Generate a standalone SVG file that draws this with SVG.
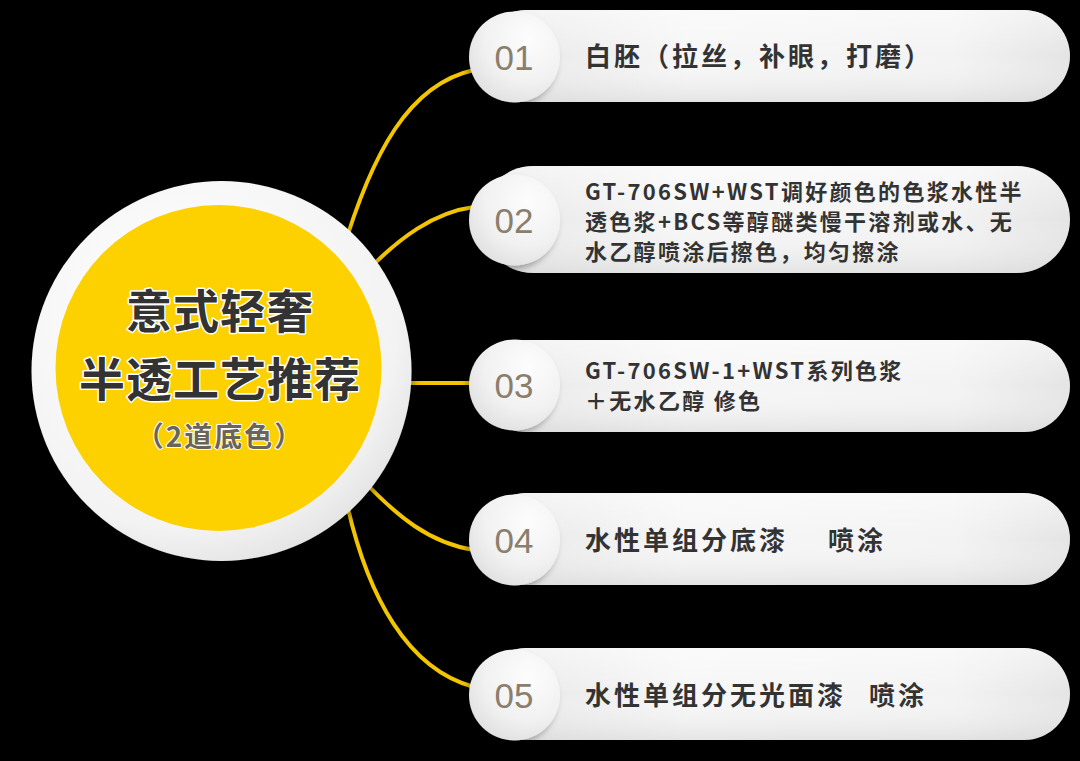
<svg xmlns="http://www.w3.org/2000/svg" width="1080" height="761" viewBox="0 0 1080 761">
  <defs>
    <linearGradient id="pillGrad" x1="0" y1="0" x2="1" y2="0">
      <stop offset="0" stop-color="#e6e6e6"/>
      <stop offset="0.35" stop-color="#f6f6f6"/>
      <stop offset="0.8" stop-color="#f3f3f3"/>
      <stop offset="1" stop-color="#e4e4e4"/>
    </linearGradient>
    <linearGradient id="pillShade" x1="0" y1="0" x2="0" y2="1">
      <stop offset="0" stop-color="#ffffff" stop-opacity="0.5"/>
      <stop offset="0.5" stop-color="#ffffff" stop-opacity="0"/>
      <stop offset="1" stop-color="#cfcfcf" stop-opacity="0.45"/>
    </linearGradient>
    <radialGradient id="numGrad" cx="0.65" cy="0.3" r="0.8">
      <stop offset="0" stop-color="#fdfdfd"/>
      <stop offset="0.6" stop-color="#f1f1f1"/>
      <stop offset="1" stop-color="#dedede"/>
    </radialGradient>
    <radialGradient id="ringGrad" cx="0.4" cy="0.35" r="0.75">
      <stop offset="0" stop-color="#ffffff"/>
      <stop offset="0.75" stop-color="#f3f3f3"/>
      <stop offset="1" stop-color="#dcdcdc"/>
    </radialGradient>
    <filter id="numShadow" x="-30%" y="-30%" width="160%" height="160%">
      <feDropShadow dx="-3" dy="4" stdDeviation="3" flood-color="#000" flood-opacity="0.3"/>
    </filter>
    <filter id="ringShadow" x="-20%" y="-20%" width="140%" height="140%">
      <feDropShadow dx="2" dy="3" stdDeviation="4" flood-color="#000" flood-opacity="0.4"/>
    </filter>
  </defs>
  <style>
    .pill { fill: url(#pillGrad); }
    .pillShade { fill: url(#pillShade); }
    .num-bg { fill: url(#numGrad); filter: url(#numShadow); }
    .num { font-family: "Liberation Sans", Arial, sans-serif; font-size: 35px; fill: #8a7e6c; text-anchor: middle; }
    .lbl { font-family: "Noto Sans CJK SC", "Noto Sans", sans-serif; font-weight: 700; fill: #333333; }
    .big { font-size: 26px; letter-spacing: 3px; }
    .small { font-size: 22px; letter-spacing: 2.3px; }
    .conn { fill: none; stroke: #f2c500; stroke-width: 4; stroke-linecap: round; }
    .title { font-family: "Noto Sans CJK SC", sans-serif; font-weight: 700; font-size: 46px; fill: #333333; stroke: #ffffff; stroke-width: 3px; paint-order: stroke; stroke-linejoin: round; text-anchor: middle; letter-spacing: 1px; }
    .sub { font-family: "Noto Sans CJK SC", sans-serif; font-weight: 700; font-size: 28px; fill: #6b6457; stroke: #ffffff; stroke-width: 2px; paint-order: stroke; stroke-linejoin: round; text-anchor: middle; letter-spacing: 2px; }
  </style>
  <rect x="0" y="0" width="1080" height="761" fill="#000000"/>

  <g id="connectors">
    <path class="conn" d="M340,260 C372,150 410,84 474,70"/>
    <path class="conn" d="M360,278 C400,236 435,212 474,207"/>
    <path class="conn" d="M395,383 L474,383"/>
    <path class="conn" d="M358,475 C398,518 430,543 474,550"/>
    <path class="conn" d="M344,490 C366,600 410,670 474,687"/>
  </g>

  <g id="center">
    <circle cx="221.5" cy="371" r="190" fill="url(#ringGrad)" filter="url(#ringShadow)"/>
    <circle cx="218.5" cy="368" r="163" fill="#fdd000"/>
    <text class="title" x="220" y="328">意式轻奢</text>
    <text class="title" x="220" y="396">半透工艺推荐</text>
    <text class="sub" x="220" y="447">（2道底色）</text>
  </g>

  <g id="step01">
    <rect class="pill" x="480" y="10" width="590" height="92" rx="46"/>
    <rect class="pillShade" x="480" y="10" width="590" height="92" rx="46"/>
    <circle class="num-bg" cx="514.5" cy="57" r="45.5"/>
    <text class="num" x="514" y="70">01</text>
    <text class="lbl big" x="585" y="66">白胚（拉丝，补眼，打磨）</text>
  </g>

  <g id="step02">
    <rect class="pill" x="480" y="166" width="590" height="107" rx="53.5"/>
    <rect class="pillShade" x="480" y="166" width="590" height="107" rx="53.5"/>
    <circle class="num-bg" cx="514.5" cy="220" r="45.5"/>
    <text class="num" x="514" y="233">02</text>
    <text class="lbl small" x="585" y="200">GT-706SW+WST调好颜色的色浆水性半</text>
    <text class="lbl small" x="585" y="230">透色浆+BCS等醇醚类慢干溶剂或水、无</text>
    <text class="lbl small" x="585" y="260">水乙醇喷涂后擦色，均匀擦涂</text>
  </g>

  <g id="step03">
    <rect class="pill" x="480" y="340" width="590" height="92" rx="46"/>
    <rect class="pillShade" x="480" y="340" width="590" height="92" rx="46"/>
    <circle class="num-bg" cx="514.5" cy="385" r="45.5"/>
    <text class="num" x="514" y="398">03</text>
    <text class="lbl small" x="585" y="379">GT-706SW-1+WST系列色浆</text>
    <text class="lbl small" x="585" y="409">＋无水乙醇 修色</text>
  </g>

  <g id="step04">
    <rect class="pill" x="480" y="493" width="590" height="92" rx="46"/>
    <rect class="pillShade" x="480" y="493" width="590" height="92" rx="46"/>
    <circle class="num-bg" cx="514.5" cy="540" r="45.5"/>
    <text class="num" x="514" y="553">04</text>
    <text class="lbl big" x="585" y="550">水性单组分底漆<tspan x="828">喷涂</tspan></text>
  </g>

  <g id="step05">
    <rect class="pill" x="480" y="648" width="590" height="92" rx="46"/>
    <rect class="pillShade" x="480" y="648" width="590" height="92" rx="46"/>
    <circle class="num-bg" cx="514.5" cy="695" r="45.5"/>
    <text class="num" x="514" y="708">05</text>
    <text class="lbl big" x="585" y="705">水性单组分无光面漆<tspan x="869">喷涂</tspan></text>
  </g>
</svg>
